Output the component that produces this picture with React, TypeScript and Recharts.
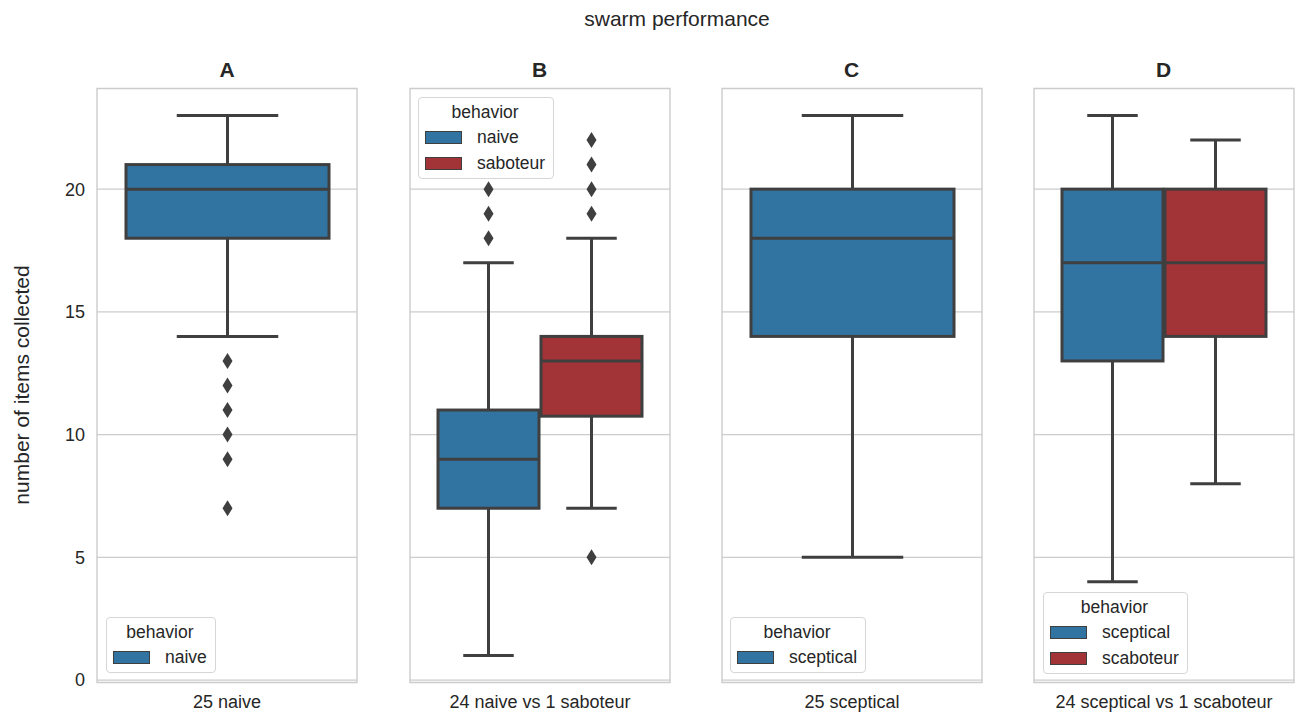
import React from 'react';
import { ComposedChart, Bar, XAxis, YAxis, CartesianGrid, ReferenceArea, Legend } from 'recharts';

const FONT = '"Liberation Sans", Arial, Helvetica, sans-serif';
const TEXT = '#262626';
const LINE = '#3f3f3f';
const GRID = '#cccccc';
const BLUE = '#3274a1';
const RED = '#a23336';

const panelTitles = ['A', 'B', 'C', 'D'];
const groupLabels = ['25 naive', '24 naive vs 1 saboteur', '25 sceptical', '24 sceptical vs 1 scaboteur'];
const hueNames = [['naive'], ['naive', 'saboteur'], ['sceptical'], ['sceptical', 'scaboteur']];
const hueColors = [BLUE, RED];

// one entry per box, panel by panel
const boxPanel = [0, 1, 1, 2, 3, 3];
const whiskerLow = [14, 1, 7, 5, 4, 8];
const q1 = [18, 7, 10.75, 14, 13, 14];
const median = [20, 9, 13, 18, 17, 17];
const q3 = [21, 11, 14, 20, 20, 20];
const whiskerHigh = [23, 17, 18, 23, 23, 22];
const outliers = [[13, 12, 11, 10, 9, 7], [18, 19, 20], [5, 19, 20, 21, 22], [], [], []];

const yTicks = [0, 5, 10, 15, 20];
const yDomain = [-0.1, 24.1];

// layout
const PLOT_W = 260;
const PLOT_TOP = 88.5;
const PLOT_BOTTOM = 682.5;
const H = 712;
const panelLeft = [97, 409.5, 721.5, 1033.5];
const legendPos = [
  { left: 106, top: 617 },
  { left: 418, top: 97 },
  { left: 730, top: 617 },
  { left: 1043, top: 592 },
];

function BoxShape(props: any) {
  const { x, y, width, height, box, fill } = props;
  const lo = whiskerLow[box];
  const hi = whiskerHigh[box];
  const top = Math.min(y, y + height);
  const bottom = Math.max(y, y + height);
  const py = (v: number) => bottom - ((v - lo) / (hi - lo)) * (bottom - top);
  const cx = x + width / 2;
  const cap = width / 4;
  const sw = 3;
  return (
    <g>
      <line x1={cx} x2={cx} y1={py(q3[box])} y2={py(hi)} stroke={LINE} strokeWidth={sw} />
      <line x1={cx} x2={cx} y1={py(q1[box])} y2={py(lo)} stroke={LINE} strokeWidth={sw} />
      <line x1={cx - cap} x2={cx + cap} y1={py(hi)} y2={py(hi)} stroke={LINE} strokeWidth={sw} />
      <line x1={cx - cap} x2={cx + cap} y1={py(lo)} y2={py(lo)} stroke={LINE} strokeWidth={sw} />
      <rect
        x={x}
        y={py(q3[box])}
        width={width}
        height={py(q1[box]) - py(q3[box])}
        fill={fill}
        stroke={LINE}
        strokeWidth={sw}
      />
      <line x1={x} x2={x + width} y1={py(median[box])} y2={py(median[box])} stroke={LINE} strokeWidth={sw} />
      {outliers[box].map((v, i) => {
        const oy = py(v);
        return (
          <path
            key={i}
            d={`M${cx},${oy - 8} L${cx + 5},${oy} L${cx},${oy + 8} L${cx - 5},${oy} Z`}
            fill={LINE}
          />
        );
      })}
    </g>
  );
}

const renderLegend = (panel: number) => () => (
  <div
    style={{
      background: 'rgba(255,255,255,0.85)',
      border: '1px solid #d6d6d6',
      borderRadius: 4,
      padding: '2px 8px 2px 6px',
      fontFamily: FONT,
      fontSize: 17.5,
      color: TEXT,
      whiteSpace: 'nowrap',
    }}
  >
    <div style={{ textAlign: 'center', lineHeight: '24px' }}>behavior</div>
    {hueNames[panel].map((n, i) => (
      <div key={n} style={{ display: 'flex', alignItems: 'center', height: 26 }}>
        <span
          style={{
            display: 'inline-block',
            width: 35,
            height: 11,
            background: hueColors[i],
            border: `1px solid ${LINE}`,
          }}
        />
        <span style={{ marginLeft: 15 }}>{n}</span>
      </div>
    ))}
  </div>
);

function Panel({ panel }: { panel: number }) {
  const first = panel === 0;
  const boxes = boxPanel.map((p, i) => (p === panel ? i : -1)).filter((i) => i >= 0);
  const row: any = { group: groupLabels[panel] };
  boxes.forEach((b, k) => {
    row[`s${k}`] = [whiskerLow[b], whiskerHigh[b]];
  });
  const chartLeft = first ? 0 : panelLeft[panel] - 1;
  const width = first ? panelLeft[0] + PLOT_W + 1 : PLOT_W + 2;
  const barSize = boxes.length === 1 ? 203 : 101;
  return (
    <div style={{ position: 'absolute', left: chartLeft, top: 0 }}>
      <ComposedChart
        width={width}
        height={H}
        data={[row]}
        margin={{ top: PLOT_TOP, right: 1, bottom: 0, left: first ? 0 : 1 }}
        barGap={2}
      >
        <CartesianGrid vertical={false} stroke={GRID} strokeWidth={1.2} />
        <ReferenceArea
          y1={yDomain[0]}
          y2={yDomain[1]}
          fill="none"
          stroke={GRID}
          strokeWidth={1.4}
          ifOverflow="visible"
        />
        <XAxis
          dataKey="group"
          type="category"
          height={H - PLOT_BOTTOM}
          axisLine={false}
          tickLine={false}
          tickSize={0}
          tickMargin={13}
          tick={{ fill: TEXT, fontSize: 18, fontFamily: FONT }}
        />
        <YAxis
          type="number"
          domain={yDomain}
          ticks={yTicks}
          hide={!first}
          width={panelLeft[0]}
          axisLine={false}
          tickLine={false}
          tickSize={0}
          tickMargin={12}
          tick={{ fill: TEXT, fontSize: 18, fontFamily: FONT }}
        />
        {boxes.map((b, k) => (
          <Bar
            key={b}
            dataKey={`s${k}`}
            name={hueNames[panel][k]}
            fill={hueColors[k]}
            barSize={barSize}
            isAnimationActive={false}
            shape={(p: any) => <BoxShape {...p} box={b} fill={hueColors[k]} />}
          />
        ))}
        <Legend
          layout="vertical"
          align="center"
          verticalAlign="middle"
          content={renderLegend(panel)}
          wrapperStyle={{
            left: legendPos[panel].left - chartLeft,
            top: legendPos[panel].top,
            width: 'auto',
            height: 'auto',
          }}
        />
      </ComposedChart>
    </div>
  );
}

export default function App() {
  return (
    <div
      style={{
        position: 'absolute',
        left: 0,
        top: 0,
        width: 1298,
        height: H,
        background: '#ffffff',
        fontFamily: FONT,
        color: TEXT,
      }}
    >
      <div
        style={{
          position: 'absolute',
          left: 677,
          top: 7,
          transform: 'translateX(-50%)',
          whiteSpace: 'nowrap',
          fontSize: 21,
        }}
      >
        swarm performance
      </div>
      {panelTitles.map((t, i) => (
        <div
          key={t}
          style={{
            position: 'absolute',
            left: panelLeft[i],
            width: PLOT_W,
            top: 58,
            textAlign: 'center',
            fontSize: 21,
            fontWeight: 'bold',
          }}
        >
          {t}
        </div>
      ))}
      <div
        style={{
          position: 'absolute',
          left: 22,
          top: 385,
          transform: 'translate(-50%, -50%) rotate(-90deg)',
          whiteSpace: 'nowrap',
          fontSize: 21,
        }}
      >
        number of items collected
      </div>
      {panelTitles.map((t, i) => (
        <Panel key={t} panel={i} />
      ))}
    </div>
  );
}
